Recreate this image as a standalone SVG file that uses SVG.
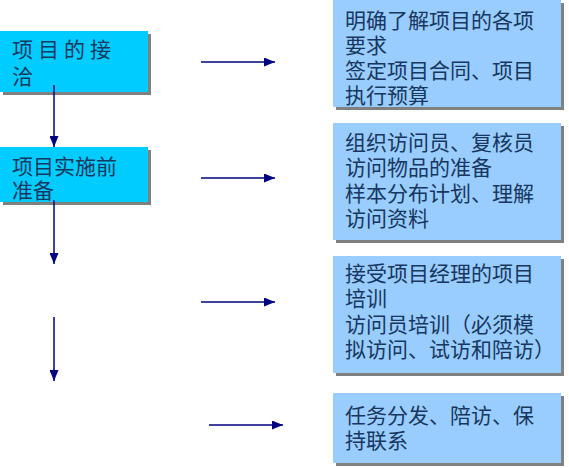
<svg xmlns="http://www.w3.org/2000/svg" width="569" height="468" viewBox="0 0 569 468">
<style>
.shadow{fill:#808080}
.stage{fill:#00CCFF}
.task{fill:#99CCFF}
text{font-family:"Noto Sans CJK SC","Liberation Sans",sans-serif;font-size:21px;fill:#17375E}
.conn{stroke:#000080;stroke-width:1.5;fill:none;marker-end:url(#ah)}
</style>
<defs>
<marker id="ah" markerUnits="userSpaceOnUse" markerWidth="11" markerHeight="9" refX="11" refY="4.5" orient="auto">
<path d="M0,0 L11,4.5 L0,9 Z" fill="#000080"/>
</marker>
</defs>
<g id="node-jieqia">
<rect class="shadow" x="3" y="34" width="148" height="61"/>
<rect class="stage" x="0" y="31" width="148" height="61"/>
<text><tspan x="12" y="57" letter-spacing="5">项目的接</tspan><tspan x="12" y="84">洽</tspan></text>
</g>
<g id="node-zhunbei">
<rect class="shadow" x="3" y="150" width="148" height="55"/>
<rect class="stage" x="0" y="147" width="148" height="55"/>
<text><tspan x="12" y="174">项目实施前</tspan><tspan x="12" y="198">准备</tspan></text>
</g>
<g id="node-a">
<rect class="shadow" x="336" y="3" width="228" height="107"/>
<rect class="task" x="333" y="0" width="228" height="107"/>
<text><tspan x="345" y="28">明确了解项目的各项</tspan><tspan x="345" y="53">要求</tspan><tspan x="345" y="78">签定项目合同、项目</tspan><tspan x="345" y="103">执行预算</tspan></text>
</g>
<g id="node-b">
<rect class="shadow" x="336" y="126" width="228" height="117"/>
<rect class="task" x="333" y="123" width="228" height="117"/>
<text><tspan x="345" y="150">组织访问员、复核员</tspan><tspan x="345" y="175">访问物品的准备</tspan><tspan x="345" y="201">样本分布计划、理解</tspan><tspan x="345" y="226">访问资料</tspan></text>
</g>
<g id="node-c">
<rect class="shadow" x="336" y="259" width="228" height="117"/>
<rect class="task" x="333" y="256" width="228" height="117"/>
<text><tspan x="345" y="281">接受项目经理的项目</tspan><tspan x="345" y="306">培训</tspan><tspan x="345" y="332">访问员培训（必须模</tspan><tspan x="345" y="357">拟访问、试访和陪访）</tspan></text>
</g>
<g id="node-d">
<rect class="shadow" x="336" y="396" width="228" height="70"/>
<rect class="task" x="333" y="393" width="228" height="70"/>
<text><tspan x="345" y="423">任务分发、陪访、保</tspan><tspan x="345" y="448">持联系</tspan></text>
</g>
<g id="connectors">
<line class="conn" x1="54" y1="85" x2="54" y2="147"/>
<line class="conn" x1="54" y1="200" x2="54" y2="264"/>
<line class="conn" x1="54" y1="317" x2="54" y2="381"/>
<line class="conn" x1="201" y1="62" x2="275" y2="62"/>
<line class="conn" x1="201" y1="178" x2="275" y2="178"/>
<line class="conn" x1="201" y1="302" x2="275" y2="302"/>
<line class="conn" x1="209" y1="425" x2="283" y2="425"/>
</g>
</svg>
